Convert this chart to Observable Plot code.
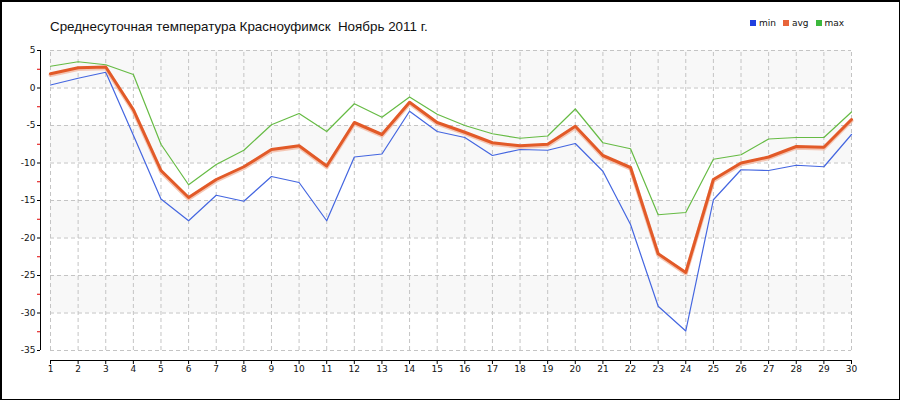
<!DOCTYPE html>
<html>
<head>
<meta charset="utf-8">
<script src="https://cdn.jsdelivr.net/npm/d3@7"></script>
<script src="https://cdn.jsdelivr.net/npm/@observablehq/plot@0.6"></script>
<style>
  html, body { margin: 0; padding: 0; background: #fff; }
  #wrap { position: relative; width: 900px; height: 400px; overflow: hidden; background: #fff; }
  #wrap svg { position: absolute; left: 0; top: 0; }
  #border { position: absolute; left: 0; top: 0; width: 900px; height: 400px; box-sizing: border-box;
            border-top: 2px solid #000; border-left: 2px solid #000; border-right: 1px solid #000; border-bottom: 1px solid #000; pointer-events: none; }
  #title { position: absolute; left: 50px; top: 19px; font: 13.4px "Liberation Sans", Arial, sans-serif; color: #111; white-space: pre; line-height: 15px; }
  #legend { position: absolute; left: 750px; top: 17px; font: 9px "DejaVu Sans", sans-serif; color: #111; white-space: nowrap; line-height: 12px; }
  #legend span.sw { display: inline-block; width: 6px; height: 6px; margin-right: 3px; }
  #legend span.item { margin-right: 7px; }
</style>
</head>
<body>
<div id="wrap">
  <div id="title"></div>
  <div id="legend"></div>
  <div id="border"></div>
</div>
<script>
const titleText = "Среднесуточная температура Красноуфимск  Ноябрь 2011 г.";
const days = [1,2,3,4,5,6,7,8,9,10,11,12,13,14,15,16,17,18,19,20,21,22,23,24,25,26,27,28,29,30];
const minT = [0.4,1.3,2.1,-6.3,-14.8,-17.7,-14.3,-15.1,-11.8,-12.6,-17.7,-9.2,-8.8,-3.1,-5.8,-6.6,-9.0,-8.2,-8.3,-7.4,-11.1,-18.2,-29.1,-32.4,-14.9,-10.9,-11.0,-10.3,-10.5,-6.2];
const avgT = [1.9,2.7,2.8,-2.9,-11.0,-14.6,-12.2,-10.5,-8.2,-7.7,-10.4,-4.6,-6.2,-1.9,-4.6,-5.9,-7.3,-7.7,-7.5,-5.1,-9.0,-10.6,-22.1,-24.6,-12.2,-10.0,-9.2,-7.8,-7.9,-4.2];
const maxT = [2.9,3.5,3.1,1.8,-7.5,-12.9,-10.2,-8.3,-4.9,-3.4,-5.8,-2.1,-3.9,-1.2,-3.5,-5.0,-6.1,-6.7,-6.4,-2.8,-7.3,-8.1,-16.9,-16.6,-9.5,-8.9,-6.8,-6.6,-6.6,-3.2];
const yTicks = [5,0,-5,-10,-15,-20,-25,-30,-35];
const yMinorTicks = [2.5,-2.5,-7.5,-12.5,-17.5,-22.5,-27.5,-32.5];
const bandTops = [5,-5,-15,-25];
const seriesNames = ["min","avg","max"];
const seriesColors = ["#2040e0","#e8643a","#3cb83c"];

const data = days.map((d,i) => ({day: d, min: minT[i], avg: avgT[i], max: maxT[i]}));

document.getElementById("title").textContent = titleText;
const leg = document.getElementById("legend");
seriesNames.forEach((n,i) => {
  const it = document.createElement("span"); it.className = "item";
  const sw = document.createElement("span"); sw.className = "sw"; sw.style.background = seriesColors[i];
  it.appendChild(sw); it.appendChild(document.createTextNode(n));
  leg.appendChild(it);
});

const chart = Plot.plot({
  width: 900, height: 400,
  marginLeft: 40, marginRight: 49, marginTop: 50, marginBottom: 40,
  style: {fontFamily: "DejaVu Sans, sans-serif", fontSize: "9px", background: "transparent", color: "#111"},
  x: {domain: [1,30], insetLeft: 10},
  y: {domain: [-35,5], insetBottom: 10},
  marks: [
    Plot.rect(bandTops, {x1: 1, x2: 30, y1: d => d, y2: d => d - 5, fill: "#f8f8f8"}),
    Plot.ruleX(days, {y1: -35, y2: 5, stroke: "#c4c4c4", strokeDasharray: "4,3", strokeWidth: 1}),
    Plot.ruleY(yTicks, {x1: 1, x2: 30, stroke: "#c4c4c4", strokeDasharray: "4,3", strokeWidth: 1}),
    Plot.ruleX([1], {y1: -35, y2: 5, dx: -10, stroke: "#000", strokeWidth: 1}),
    Plot.ruleY([-35], {x1: 1, x2: 30, dy: 10, stroke: "#000", strokeWidth: 1}),
    Plot.axisY({ticks: yMinorTicks, tickSize: 3, stroke: "#e00000", strokeOpacity: 1, tickFormat: () => "", label: null}),
    Plot.axisY({ticks: yTicks, tickSize: 3, tickPadding: 2, stroke: "#000", strokeOpacity: 1, tickFormat: d => String(d), label: null, fontSize: 9}),
    Plot.axisX({ticks: days, tickSize: 4, tickPadding: 1, stroke: "#000", strokeOpacity: 1, tickFormat: d => String(d), label: null, fontSize: 9}),
    Plot.line(data, {x: "day", y: "min", stroke: "#4466e0", strokeWidth: 1.2}),
    Plot.line(data, {x: "day", y: "max", stroke: "#66bb44", strokeWidth: 1.2}),
    Plot.line(data, {x: "day", y: "avg", stroke: "#f2b9a2", strokeWidth: 4, dy: 1.2, strokeOpacity: 0.8}),
    Plot.line(data, {x: "day", y: "avg", stroke: "#e25a28", strokeWidth: 3})
  ]
});
document.getElementById("wrap").insertBefore(chart, document.getElementById("title"));
</script>
</body>
</html>
